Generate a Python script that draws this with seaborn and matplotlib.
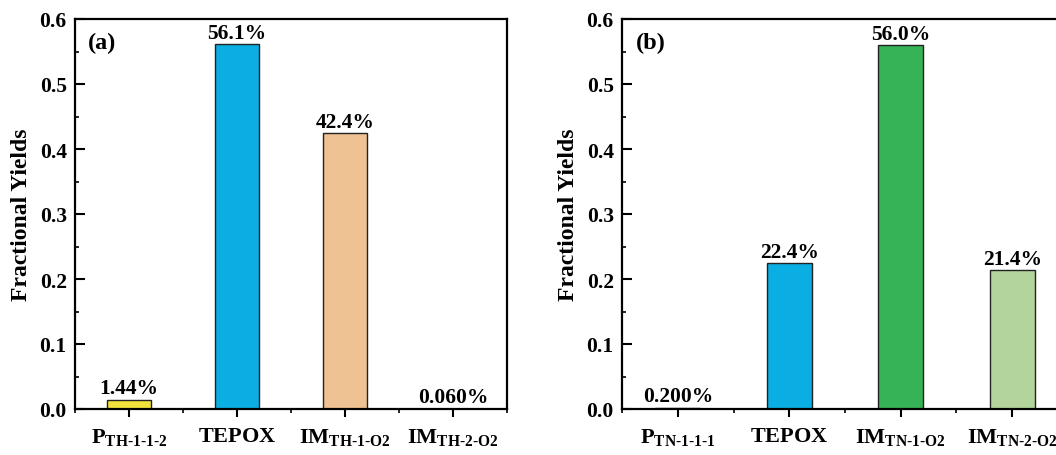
import matplotlib
matplotlib.use('Agg')
import matplotlib.pyplot as plt
import seaborn as sns
import numpy as np
import pandas as pd
from matplotlib.ticker import MultipleLocator

##datos de los dos paneles
cats_a = ['P_TH-1-1-2', 'TEPOX', 'IM_TH-1-O2', 'IM_TH-2-O2']
vals_a = [0.0144, 0.561, 0.424, 0.0006]
labs_a = ['1.44%', '56.1%', '42.4%', '0.060%']
cols_a = ['#F2E33C', '#0AAEE2', '#EEC293', '#F4F4F4']

cats_b = ['P_TN-1-1-1', 'TEPOX', 'IM_TN-1-O2', 'IM_TN-2-O2']
vals_b = [0.002, 0.224, 0.560, 0.214]
labs_b = ['0.200%', '22.4%', '56.0%', '21.4%']
cols_b = ['#2E7D32', '#0AAEE2', '#36B257', '#B3D49B']

ticks_a = [r'$P_{\text{TH-1-1-2}}$', r'$\text{TEPOX}$', r'$IM_{\text{TH-1-O2}}$', r'$IM_{\text{TH-2-O2}}$']
ticks_b = [r'$P_{\text{TN-1-1-1}}$', r'$\text{TEPOX}$', r'$IM_{\text{TN-1-O2}}$', r'$IM_{\text{TN-2-O2}}$']

sns.set_style('ticks')
plt.rcParams['font.family'] = ['Liberation Serif', 'DejaVu Serif']
plt.rcParams['font.weight'] = 'bold'
plt.rcParams['text.color'] = 'black'
plt.rcParams['axes.labelcolor'] = 'black'
plt.rcParams['axes.edgecolor'] = 'black'
plt.rcParams['xtick.color'] = 'black'
plt.rcParams['ytick.color'] = 'black'
plt.rcParams['mathtext.fontset'] = 'custom'
plt.rcParams['mathtext.rm'] = 'Liberation Serif:bold'
plt.rcParams['mathtext.it'] = 'Liberation Serif:bold'
plt.rcParams['mathtext.bf'] = 'Liberation Serif:bold'
plt.rcParams['mathtext.default'] = 'rm'

fig = plt.figure(figsize=(10.56, 4.56), dpi=100)
ax1 = fig.add_axes([75/1056, 46/456, 432/1056, 390/456])
ax2 = fig.add_axes([622/1056, 46/456, 446/1056, 390/456])


def panel(ax, cats, vals, labs, cols, ticks, letter):
    df = pd.DataFrame({'cat': cats, 'val': vals})
    sns.barplot(data=df, x='cat', y='val', hue='cat', palette=cols, legend=False,
                width=0.4, edgecolor='#222222', linewidth=1.0, ax=ax, saturation=1)
    ax.set_xlim(-0.5, 3.5)
    ax.set_ylim(0, 0.6)
    for c, l in zip(ax.containers, labs):
        ax.bar_label(c, labels=[l], padding=1, fontsize=15.5, fontweight='bold')
    ax.set_xticks(range(len(cats)))
    ax.set_xticklabels(ticks, fontsize=16)
    ax.xaxis.set_minor_locator(MultipleLocator(0.5))
    ax.yaxis.set_minor_locator(MultipleLocator(0.05))
    yt = np.arange(0, 0.61, 0.1)
    ax.set_yticks(yt)
    ax.set_yticklabels(['%.1f' % t for t in yt], fontsize=15.5)
    ax.tick_params(axis='x', which='major', direction='out', length=6, width=1.5, pad=6)
    ax.tick_params(axis='x', which='minor', direction='out', length=3, width=1.2)
    ax.tick_params(axis='y', which='major', direction='in', length=7, width=1.5, pad=6)
    ax.tick_params(axis='y', which='minor', direction='in', length=3, width=1.2)
    for s in ax.spines.values():
        s.set_visible(True)
        s.set_linewidth(1.6)
    ax.set_xlabel('')
    ax.set_ylabel('Fractional Yields', fontsize=17, fontweight='bold', labelpad=5)
    ax.text(0.03, 0.94, letter, transform=ax.transAxes, fontsize=17.5, fontweight='bold',
            va='center', ha='left')


panel(ax1, cats_a, vals_a, labs_a, cols_a, ticks_a, '(a)')
panel(ax2, cats_b, vals_b, labs_b, cols_b, ticks_b, '(b)')

fig.savefig('out.png', dpi=100)
